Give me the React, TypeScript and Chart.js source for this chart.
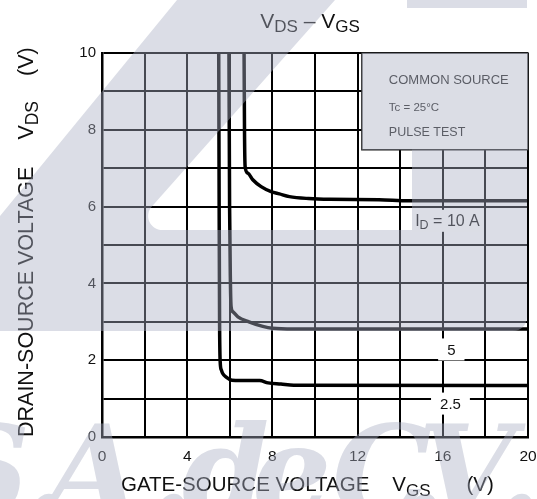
import React, { useEffect, useRef } from 'react';
import { Chart, registerables } from 'chart.js';

Chart.register(...registerables);

const FONT = '"Liberation Sans", Arial, Helvetica, sans-serif';

// axis ranges and labelled ticks
const xTickLabels = [0, 4, 8, 12, 16, 20];
const yTickLabels = [0, 2, 4, 6, 8, 10];

// ID = 10 A
const vgs10 = [6.67, 6.69, 6.72, 6.85, 7.08, 7.47, 7.94, 8.33, 8.8, 9.7, 10.7, 13.0, 14.4, 20];
const vds10 = [10, 8, 7.04, 6.87, 6.7, 6.52, 6.39, 6.33, 6.26, 6.21, 6.19, 6.18, 6.15, 6.15];
// ID = 5 A
const vgs5 = [5.96, 5.99, 6.03, 6.06, 6.15, 6.38, 6.9, 7.55, 8.0, 9.0, 20];
const vds5 = [10, 6, 4, 3.4, 3.26, 3.13, 3.0, 2.88, 2.83, 2.81, 2.81];
// ID = 2.5 A
const vgs25 = [5.48, 5.5, 5.52, 5.55, 5.6, 5.66, 5.83, 6.1, 6.5, 7.4, 7.8, 8.4, 9.0, 20];
const vds25 = [10, 6, 3, 1.95, 1.75, 1.66, 1.56, 1.48, 1.47, 1.47, 1.41, 1.38, 1.35, 1.34];

// curve labels (position in data units)
const curveLabelVgs = [16.22, 16.4, 16.36];
const curveLabelVds = [5.63, 2.28, 0.87];
const curveLabelParts = [
  [{ t: 'I', s: 16, dy: 0 }, { t: 'D', s: 12.5, dy: 3 }, { t: ' = 10 A', s: 16, dy: 0 }],
  [{ t: '5', s: 15, dy: 0 }],
  [{ t: '2.5', s: 15, dy: 0 }],
];

// condition box
const conditionLines = ['COMMON SOURCE', 'Tc = 25°C', 'PULSE TEST'];
const conditionSizes = [13, 11.5, 12.5];
const conditionBoxVgs = 12.2;
const conditionBoxVds = 7.48;

type Part = { t?: string; s?: number; dy?: number; gap?: number };

function richWidth(ctx: CanvasRenderingContext2D, parts: Part[]) {
  let w = 0;
  for (const p of parts) {
    if (p.gap) { w += p.gap; continue; }
    ctx.font = `${p.s}px ${FONT}`;
    w += ctx.measureText(p.t!).width;
  }
  return w;
}

function drawRich(ctx: CanvasRenderingContext2D, parts: Part[], x: number, y: number) {
  let cx = x;
  ctx.textAlign = 'left';
  ctx.textBaseline = 'alphabetic';
  for (const p of parts) {
    if (p.gap) { cx += p.gap; continue; }
    ctx.font = `${p.s}px ${FONT}`;
    ctx.fillText(p.t!, cx, y + (p.dy || 0));
    cx += ctx.measureText(p.t!).width;
  }
  return cx;
}

function roundedPoly(o: CanvasRenderingContext2D, pts: number[][]) {
  const n = pts.length;
  const a = pts[n - 1], b = pts[0];
  o.moveTo((a[0] + b[0]) / 2, (a[1] + b[1]) / 2);
  for (let i = 0; i < n; i++) {
    const p = pts[i], q = pts[(i + 1) % n];
    o.arcTo(p[0], p[1], (p[0] + q[0]) / 2, (p[1] + q[1]) / 2, p[2]);
  }
  o.closePath();
}

const annotPlugin = {
  id: 'annot',
  afterDatasetsDraw(chart: any) {
    const { ctx, scales } = chart;
    const xs = scales.x, ys = scales.y;
    const area = chart.chartArea;
    ctx.save();
    // condition box
    const bl = xs.getPixelForValue(conditionBoxVgs);
    const bb = ys.getPixelForValue(conditionBoxVds);
    ctx.fillStyle = '#fff';
    ctx.fillRect(bl, area.top, area.right - bl, bb - area.top);
    ctx.strokeStyle = '#222';
    ctx.lineWidth = 1.5;
    ctx.strokeRect(bl, area.top, area.right - bl, bb - area.top);
    ctx.fillStyle = '#222';
    ctx.textAlign = 'left';
    ctx.textBaseline = 'middle';
    const rows = [80, 108, 133];
    conditionLines.forEach((t, i) => {
      ctx.font = `${conditionSizes[i]}px ${FONT}`;
      ctx.fillText(t, bl + 27, area.top + (rows[i] - 53) * (bb - area.top) / 97);
    });
    // curve labels
    curveLabelParts.forEach((parts, i) => {
      const cx = xs.getPixelForValue(curveLabelVgs[i]);
      const cy = ys.getPixelForValue(curveLabelVds[i]);
      const w = richWidth(ctx, parts);
      const padX = i === 0 ? 4 : 9;
      ctx.fillStyle = '#fff';
      ctx.fillRect(cx - w / 2 - padX, cy - 11, w + 2 * padX, 22);
      ctx.fillStyle = '#111';
      drawRich(ctx, parts as Part[], cx - w / 2, cy + 5.5);
    });
    ctx.restore();
  },
  afterDraw(chart: any) {
    const { ctx, scales } = chart;
    const area = chart.chartArea;
    ctx.save();
    ctx.fillStyle = '#111';
    // title
    const title: Part[] = [
      { t: 'V', s: 21 }, { t: 'DS', s: 17, dy: 4 }, { t: ' – ', s: 21 }, { t: 'V', s: 21 }, { t: 'GS', s: 17, dy: 4 },
    ];
    const tw = richWidth(ctx, title);
    drawRich(ctx, title, 310 - tw / 2, 28);
    // x title
    const xt: Part[] = [
      { t: 'GATE-SOURCE VOLTAGE', s: 20.5 }, { gap: 23 }, { t: 'V', s: 20.5 }, { t: 'GS', s: 17, dy: 5 }, { gap: 36 }, { t: '(V)', s: 20.5 },
    ];
    drawRich(ctx, xt, 121, 491);
    // y title
    const yt: Part[] = [
      { t: 'DRAIN-SOURCE VOLTAGE', s: 21.5 }, { gap: 27 }, { t: 'V', s: 21.5 }, { t: 'DS', s: 17.5, dy: 5 }, { gap: 25 }, { t: '(V)', s: 21.5 },
    ];
    ctx.save();
    ctx.translate(33, area.bottom);
    ctx.rotate(-Math.PI / 2);
    drawRich(ctx, yt, 0, 0);
    ctx.restore();

    // watermark overlay
    const W = chart.width, H = chart.height;
    const dpr = chart.currentDevicePixelRatio || 1;
    const off = document.createElement('canvas');
    off.width = Math.round(W * dpr);
    off.height = Math.round(H * dpr);
    const o = off.getContext('2d')!;
    o.scale(dpr, dpr);
    o.fillStyle = 'rgb(170,175,195)';
    o.beginPath();
    roundedPoly(o, [
      [177, 0, 0], [335, 0, 0], [131, 230, 14], [412, 230, 0], [412, 62, 0],
      [527, 62, 14], [527, 331, 14], [-5, 331, 0], [-5, 222, 0],
    ]);
    o.fill();
    o.fillRect(407, 0, 120, 8);
    const bl = scales.x.getPixelForValue(conditionBoxVgs);
    const bb = scales.y.getPixelForValue(conditionBoxVds);
    o.fillRect(bl, area.top, area.right - bl, bb - area.top);
    o.font = `italic bold 125px "DejaVu Serif"`;
    o.textBaseline = 'alphabetic';
    const glyphs: [string, number][] = [
      ['S', -60], ['.', 25], ['A', 45], ['.', 150], ['d', 182], ['e', 252], ['C', 332], ['.', 402], ['V', 418], ['.', 498],
    ];
    glyphs.forEach(([g, gx]) => o.fillText(g, gx, 515));
    ctx.setTransform(1, 0, 0, 1, 0, 0);
    ctx.globalAlpha = 0.42;
    ctx.drawImage(off, 0, 0);
    ctx.restore();
  },
};

function makeSeries(xs: number[], ys: number[]) {
  return xs.map((x, i) => ({ x, y: ys[i] }));
}

export default function App() {
  const ref = useRef<HTMLCanvasElement | null>(null);
  useEffect(() => {
    document.body.style.margin = '0';
    const canvas = ref.current!;
    const lineStyle = {
      borderColor: '#000',
      borderWidth: 3.5,
      pointRadius: 0,
      fill: false,
      cubicInterpolationMode: 'monotone' as const,
      borderJoinStyle: 'round' as const,
    };
    const chart = new Chart(canvas, {
      type: 'line',
      data: {
        datasets: [
          { label: 'ID = 10 A', data: makeSeries(vgs10, vds10), ...lineStyle },
          { label: 'ID = 5 A', data: makeSeries(vgs5, vds5), ...lineStyle },
          { label: 'ID = 2.5 A', data: makeSeries(vgs25, vds25), ...lineStyle },
        ],
      },
      options: {
        animation: false,
        responsive: false,
        layout: { padding: { top: 53, right: 0, left: 0, bottom: 0 } },
        plugins: { legend: { display: false }, tooltip: { enabled: false }, title: { display: false } },
        scales: {
          x: {
            type: 'linear',
            min: 0,
            max: 20,
            ticks: {
              stepSize: 2,
              autoSkip: false,
              maxRotation: 0,
              padding: 10,
              color: '#111',
              font: { size: 15.5, family: FONT },
              callback: (v: any) => (xTickLabels.includes(Number(v)) ? String(v) : ''),
            },
            grid: { color: '#000', lineWidth: 2, drawTicks: false },
            border: { color: '#000', width: 2.5 },
            afterFit: (s: any) => { s.height = 62; s.paddingRight = 9; },
          },
          y: {
            type: 'linear',
            min: 0,
            max: 10,
            ticks: {
              stepSize: 1,
              autoSkip: false,
              padding: 6,
              color: '#111',
              font: { size: 15, family: FONT },
              callback: (v: any) => (yTickLabels.includes(Number(v)) ? String(v) : ''),
            },
            grid: { color: '#000', lineWidth: 2, drawTicks: false },
            border: { color: '#000', width: 2.5 },
            afterFit: (s: any) => { s.width = 102; },
          },
        },
      } as any,
      plugins: [annotPlugin],
    });
    return () => chart.destroy();
  }, []);
  return (
    <div style={{ width: 537, height: 499, position: 'relative', background: '#fff' }}>
      <canvas ref={ref} width={537} height={499} style={{ display: 'block', width: 537, height: 499 }} />
    </div>
  );
}
